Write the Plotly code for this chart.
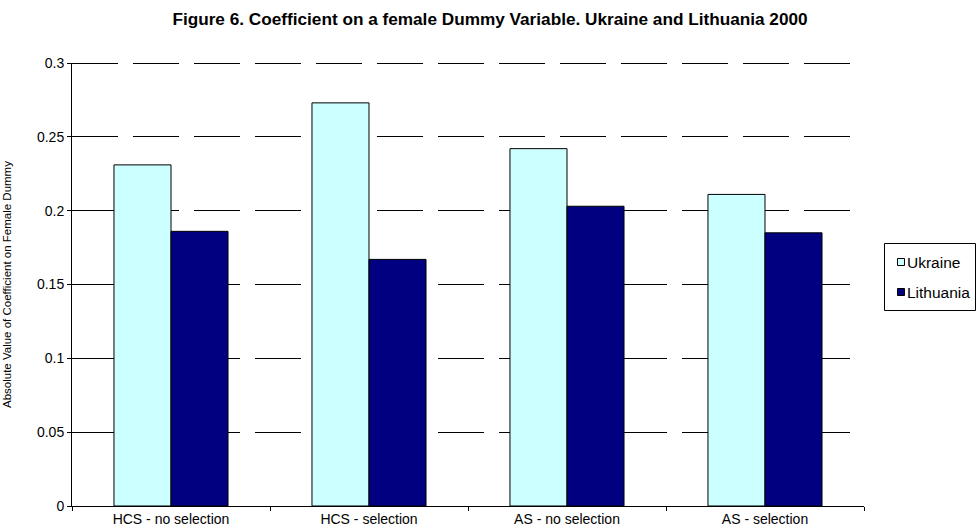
import plotly.graph_objects as go

categories = ["HCS - no selection", "HCS - selection", "AS - no selection", "AS - selection"]
ukraine = [0.231, 0.273, 0.242, 0.211]
lithuania = [0.186, 0.167, 0.203, 0.185]
series_names = ["Ukraine", "Lithuania"]
series_colors = ["#CCFFFF", "#000080"]
y_ticks = [0, 0.05, 0.1, 0.15, 0.2, 0.25, 0.3]
y_tick_text = ["0", "0.05", "0.1", "0.15", "0.2", "0.25", "0.3"]

FONT = "Liberation Sans, Arial, sans-serif"
GRID_DASH = "46px,15px"

# plot-area geometry in pixels
W, H = 976, 531
L, R, T, B = 72, 112, 63, 25
PW, PH = W - L - R, H - T - B


def px_x(x):
    return (x - L) / PW


def px_y(y):
    return (H - B - y) / PH


fig = go.Figure()
for name, vals, col in zip(series_names, [ukraine, lithuania], series_colors):
    fig.add_trace(go.Bar(
        name=name, x=categories, y=vals,
        marker=dict(color=col, line=dict(color="#000000", width=1)),
    ))

fig.update_layout(
    width=W, height=H,
    margin=dict(l=L, r=R, t=T, b=B),
    paper_bgcolor="white", plot_bgcolor="white",
    barmode="group", bargap=0.424, bargroupgap=0,
    font=dict(family=FONT, size=14, color="#000000"),
    title=dict(
        text="<b>Figure 6. Coefficient on a female Dummy Variable. Ukraine and Lithuania 2000</b>",
        xref="container", x=490 / W, xanchor="center",
        yref="container", y=1 - 19 / H, yanchor="middle",
        font=dict(family=FONT, size=17.2, color="#000000"),
    ),
    showlegend=False,
)

fig.update_xaxes(
    type="category", automargin=False,
    showline=True, linecolor="#000000", linewidth=1,
    ticks="outside", tickson="boundaries", ticklen=4, tickcolor="#000000",
    showgrid=False,
    tickfont=dict(family=FONT, size=14),
)
fig.update_yaxes(
    range=[0, 0.3], tickvals=y_ticks, ticktext=y_tick_text,
    automargin=False,
    showline=True, linecolor="#000000", linewidth=1,
    ticks="outside", ticklen=4, tickcolor="#000000",
    showgrid=True, gridcolor="#000000", gridwidth=1, griddash=GRID_DASH,
    zeroline=False,
    tickfont=dict(family=FONT, size=14),
)

# the gridline on the top edge of the plot area (nudged half a pixel down so it renders crisp)
top_y = px_y(T + 0.5)
fig.add_shape(
    type="line", xref="paper", yref="paper", x0=0, x1=1, y0=top_y, y1=top_y,
    line=dict(color="#000000", width=1, dash=GRID_DASH), layer="below",
)

# vertical axis title
fig.add_annotation(
    text="Absolute Value of Coefficient on Female Dummy",
    xref="paper", yref="paper", x=px_x(7), y=px_y(285),
    xanchor="center", yanchor="middle", textangle=-90, showarrow=False,
    font=dict(family=FONT, size=11.5, color="#000000"),
)

# legend box with swatches
fig.add_shape(
    type="rect", xref="paper", yref="paper",
    x0=px_x(884.5), x1=px_x(975.5), y0=px_y(243.5), y1=px_y(310.5),
    line=dict(color="#000000", width=1), fillcolor="white", layer="above",
)
for i, (name, col) in enumerate(zip(series_names, series_colors)):
    cy = 262 + 30 * i
    fig.add_shape(
        type="rect", xref="paper", yref="paper",
        x0=px_x(897.5), x1=px_x(904.5), y0=px_y(cy - 3.5), y1=px_y(cy + 3.5),
        line=dict(color="#000000", width=1), fillcolor=col, layer="above",
    )
    fig.add_annotation(
        text=name, xref="paper", yref="paper", x=px_x(905), y=px_y(cy),
        xanchor="left", yanchor="middle", showarrow=False,
        font=dict(family=FONT, size=15.5, color="#000000"),
    )

fig.write_html("out.html")
